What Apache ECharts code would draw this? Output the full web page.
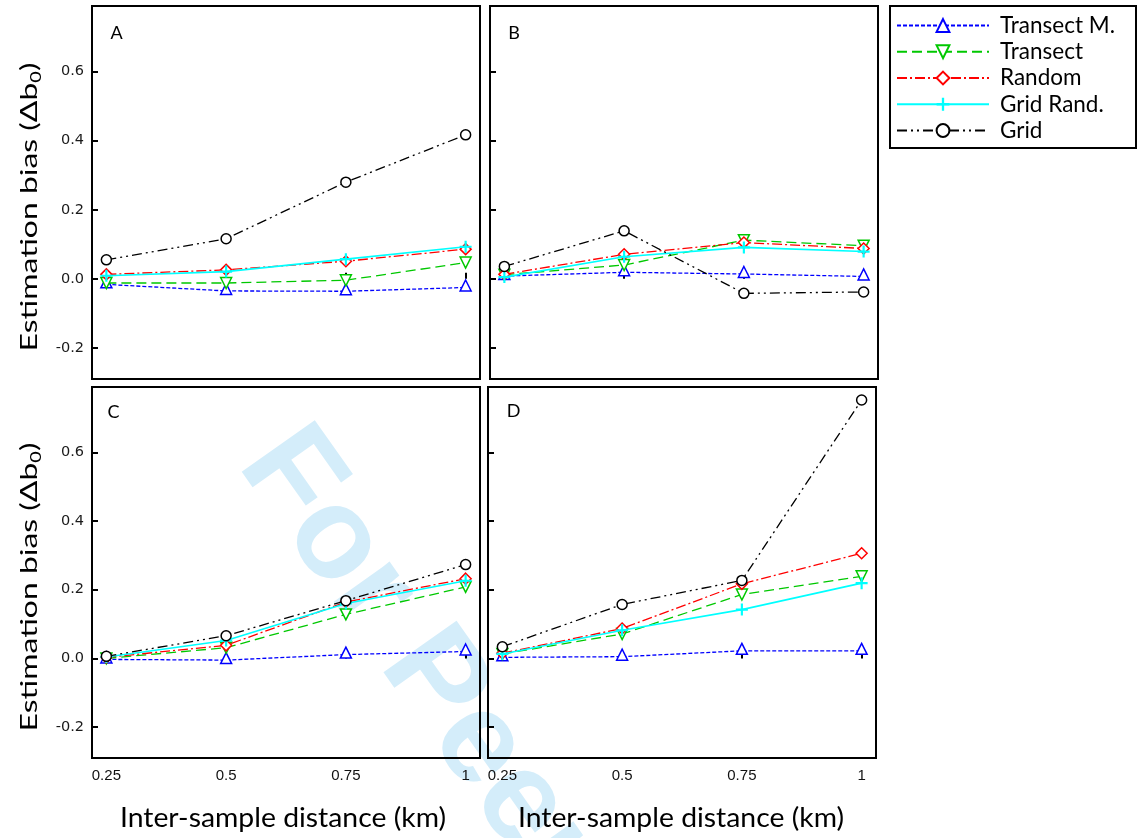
<!DOCTYPE html>
<html>
<head>
<meta charset="utf-8">
<script src="https://cdn.jsdelivr.net/npm/echarts@6/dist/echarts.min.js"></script>
<style>
  html, body { margin: 0; padding: 0; background: #fff; }
  #chart { width: 1138px; height: 838px; }
</style>
</head>
<body>
<div id="chart"></div>
<script>
// Inter-sample distances (km) on the x axis
const distances = [0.25, 0.5, 0.75, 1];
const xTicks = [0.25, 0.5, 0.75, 1];
const yTicks = [-0.2, 0, 0.2, 0.4, 0.6];
const panelLetters = ['A', 'B', 'C', 'D'];
const seriesNames = ['Transect M.', 'Transect', 'Random', 'Grid Rand.', 'Grid'];

// Estimation bias (Δb0) per panel A, B, C, D — one row per panel
const transectM = [
  [-0.016, -0.035, -0.036, -0.025],
  [0.008, 0.019, 0.014, 0.007],
  [-0.003, -0.005, 0.011, 0.020],
  [0.003, 0.005, 0.022, 0.022]
];
const transect = [
  [-0.012, -0.012, -0.004, 0.047],
  [0.012, 0.040, 0.112, 0.096],
  [0.000, 0.031, 0.128, 0.208],
  [0.013, 0.071, 0.186, 0.239]
];
const random = [
  [0.013, 0.026, 0.051, 0.086],
  [0.013, 0.071, 0.105, 0.088],
  [0.003, 0.038, 0.164, 0.232],
  [0.015, 0.087, 0.217, 0.306]
];
const gridRand = [
  [0.009, 0.021, 0.057, 0.093],
  [0.005, 0.064, 0.091, 0.079],
  [0.004, 0.052, 0.160, 0.226],
  [0.013, 0.082, 0.142, 0.219]
];
const grid = [
  [0.055, 0.116, 0.280, 0.417],
  [0.036, 0.139, -0.042, -0.038],
  [0.006, 0.066, 0.168, 0.273],
  [0.034, 0.157, 0.227, 0.752]
];

const allSeriesValues = [transectM, transect, random, gridRand, grid];

// Line and marker appearance for each sampling design
const PLUS = 'path://M4.1,0H5.9V4.1H10V5.9H5.9V10H4.1V5.9H0V4.1H4.1Z';
const looks = [
  { color: '#0000ff', symbol: 'triangle', rotate: 0,   size: 11, dash: [4, 2],              width: 1.3, hollow: true,  offset: [0, -2] },
  { color: '#00c800', symbol: 'triangle', rotate: 180, size: 11, dash: [10, 5],             width: 1.3, hollow: true,  offset: [0, 0] },
  { color: '#ff0000', symbol: 'diamond',  rotate: 0,   size: 11, dash: [10, 3, 2, 3],       width: 1.3, hollow: true,  offset: [0, 0] },
  { color: '#00ffff', symbol: PLUS,       rotate: 0,   size: 12, dash: 'solid',             width: 1.6, hollow: false, offset: [0, 0] },
  { color: '#000000', symbol: 'circle',   rotate: 0,   size: 10, dash: [10, 4, 2, 4, 2, 4], width: 1.3, hollow: true,  offset: [0, 0] }
];

const panelBoxes = [
  { left: 92,  top: 6,   width: 388, height: 373 },
  { left: 490, top: 6,   width: 388, height: 373 },
  { left: 92,  top: 387, width: 388, height: 371 },
  { left: 488, top: 387, width: 388, height: 371 }
];

const CAL = 'Lato, "Open Sans", sans-serif';

const grids = panelBoxes.map(b => Object.assign({
  show: true, borderColor: '#000', borderWidth: 2, backgroundColor: 'transparent', containLabel: false
}, b));

const xAxes = panelBoxes.map((b, i) => ({
  type: 'value', gridIndex: i, min: 0.22, max: 1.03,
  axisLine: { show: false },
  splitLine: { show: false },
  axisTick: { show: true, inside: true, length: 6, customValues: xTicks, lineStyle: { color: '#000', width: 2 } },
  axisLabel: {
    show: i >= 2, customValues: xTicks, margin: 10,
    fontFamily: '"Liberation Sans", sans-serif', fontSize: 15, color: '#111',
    formatter: v => String(v)
  }
}));

const yAxes = panelBoxes.map((b, i) => ({
  type: 'value', gridIndex: i, min: -0.29, max: 0.79,
  axisLine: { show: false },
  splitLine: { show: false },
  axisTick: { show: true, inside: true, length: 6, customValues: yTicks, lineStyle: { color: '#000', width: 2 } },
  axisLabel: {
    show: i % 2 === 0, customValues: yTicks, margin: 8,
    fontFamily: '"DejaVu Sans", sans-serif', fontSize: 14.5, color: '#1a1a1a',
    formatter: v => v.toFixed(1)
  }
}));

const series = [];
for (let p = 0; p < 4; p++) {
  allSeriesValues.forEach((vals, s) => {
    const lk = looks[s];
    series.push({
      type: 'line',
      name: seriesNames[s],
      xAxisIndex: p,
      yAxisIndex: p,
      data: distances.map((d, k) => [d, vals[p][k]]),
      symbol: lk.symbol,
      symbolSize: lk.size,
      symbolRotate: lk.rotate,
      symbolOffset: lk.offset,
      symbolKeepAspect: true,
      showAllSymbol: true,
      color: lk.color,
      lineStyle: { color: lk.color, width: lk.width, type: lk.dash },
      itemStyle: lk.hollow
        ? { color: '#fff', borderColor: lk.color, borderWidth: 1.5 }
        : { color: lk.color, borderWidth: 0 },
      emphasis: { disabled: true },
      z: 3 + s
    });
  });
}

// y-axis title with a subscript zero
const yTitle = '{m|Estimation bias (Δb}{s|0}{m|)}';
const yTitleRich = {
  m: { fontFamily: CAL, fontSize: 24, color: '#000', lineHeight: 30, verticalAlign: 'middle' },
  s: { fontFamily: CAL, fontSize: 15, color: '#000', lineHeight: 15, padding: [14, 0, 0, 0], verticalAlign: 'middle' }
};

const graphics = [
  // review watermark, behind everything
  {
    type: 'text', x: 266, y: 444, rotation: -0.955, z: -10, silent: true,
    style: {
      text: 'For Peer Review', fill: '#d4edfa',
      font: 'bold 130px "Liberation Sans", Arial, sans-serif',
      align: 'left', verticalAlign: 'middle', textAlign: 'left', textVerticalAlign: 'middle'
    }
  },
  // legend frame
  {
    type: 'rect', z: 10, silent: true,
    shape: { x: 890, y: 6, width: 246, height: 142 },
    style: { fill: 'none', stroke: '#000', lineWidth: 2 }
  },
  // axis titles
  {
    type: 'text', x: 29, y: 207, rotation: Math.PI / 2, scaleX: 1.33, z: 10,
    style: { text: yTitle, rich: yTitleRich, align: 'center', verticalAlign: 'middle', textAlign: 'center', textVerticalAlign: 'middle' }
  },
  {
    type: 'text', x: 29, y: 587, rotation: Math.PI / 2, scaleX: 1.33, z: 10,
    style: { text: yTitle, rich: yTitleRich, align: 'center', verticalAlign: 'middle', textAlign: 'center', textVerticalAlign: 'middle' }
  },
  {
    type: 'text', x: 283, y: 818, scaleX: 1.05, z: 10,
    style: { text: 'Inter-sample distance (km)', font: '27px ' + CAL, fill: '#000', align: 'center', verticalAlign: 'middle', textAlign: 'center', textVerticalAlign: 'middle' }
  },
  {
    type: 'text', x: 681, y: 818, scaleX: 1.05, z: 10,
    style: { text: 'Inter-sample distance (km)', font: '27px ' + CAL, fill: '#000', align: 'center', verticalAlign: 'middle', textAlign: 'center', textVerticalAlign: 'middle' }
  }
];

// panel letters
const letterPos = [[116.5, 33], [514, 33], [113.5, 412.5], [513.5, 411.5]];
panelLetters.forEach((t, i) => {
  graphics.push({
    type: 'text', x: letterPos[i][0], y: letterPos[i][1], z: 10,
    style: { text: t, font: '18px ' + CAL, fill: '#000', align: 'center', verticalAlign: 'middle', textAlign: 'center', textVerticalAlign: 'middle' }
  });
});

const option = {
  animation: false,
  backgroundColor: '#fff',
  grid: grids,
  xAxis: xAxes,
  yAxis: yAxes,
  legend: {
    data: seriesNames,
    orient: 'vertical',
    left: 896, top: 14,
    padding: 0,
    itemWidth: 92, itemHeight: 16, itemGap: 3.25,
    selectedMode: false,
    textStyle: { fontFamily: CAL, fontSize: 22.5, color: '#000', padding: [0, 0, 0, 6] }
  },
  graphic: graphics,
  series: series
};

const chart = echarts.init(document.getElementById('chart'));
chart.setOption(option);
</script>
</body>
</html>
